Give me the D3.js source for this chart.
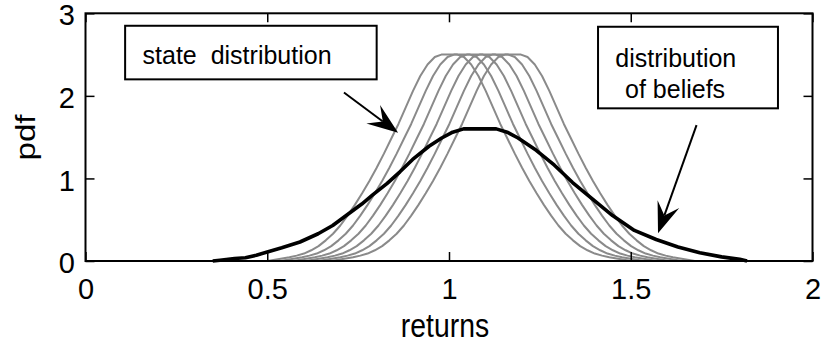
<!DOCTYPE html>
<html>
<head>
<meta charset="utf-8">
<script src="https://cdn.jsdelivr.net/npm/d3@7"></script>
<style>
  body { margin: 0; background: #fff; }
  text { font-family: "Liberation Sans", Arial, sans-serif; fill: #000; }
</style>
</head>
<body>
<div id="chart"></div>
<script>
// tick values
const xTicks = [0, 0.5, 1, 1.5, 2];
const yTicks = [0, 1, 2, 3];

// shape of one state distribution: distance from its centre -> pdf (symmetric)
const stateProfileDist = [0, 0.022, 0.04, 0.06, 0.08, 0.1, 0.12, 0.14, 0.16, 0.18, 0.2, 0.22, 0.24, 0.26, 0.28, 0.3, 0.32, 0.34, 0.36, 0.38, 0.4, 0.42, 0.44, 0.46, 0.48, 0.5];
const stateProfilePdf = [2.5, 2.5, 2.47, 2.38, 2.24, 2.06, 1.86, 1.66, 1.48, 1.3, 1.13, 0.97, 0.82, 0.68, 0.55, 0.43, 0.33, 0.25, 0.18, 0.13, 0.09, 0.065, 0.045, 0.03, 0.015, 0];
// centres of the six state distributions
const stateCentres = [1.001, 1.036, 1.071, 1.106, 1.141, 1.176];

// distribution of beliefs
const beliefReturns = [0.35, 0.37, 0.41, 0.44, 0.47, 0.5, 0.54, 0.59, 0.64, 0.68, 0.72, 0.76, 0.79, 0.83, 0.865, 0.9, 0.945, 0.98, 1.01, 1.04, 1.13, 1.16, 1.19, 1.24, 1.29, 1.34, 1.4, 1.45, 1.51, 1.57, 1.63, 1.69, 1.75, 1.8, 1.82];
const beliefPdf = [0, 0.01, 0.03, 0.04, 0.07, 0.11, 0.16, 0.23, 0.33, 0.43, 0.56, 0.69, 0.8, 0.94, 1.08, 1.23, 1.39, 1.49, 1.56, 1.6, 1.6, 1.56, 1.49, 1.34, 1.16, 0.95, 0.73, 0.55, 0.37, 0.26, 0.17, 0.1, 0.05, 0.02, 0];

// annotation arrows [x0, y0, x1, y1] in data units
const arrows = [
  [0.711, 2.04, 0.86, 1.553],
  [1.681, 1.646, 1.575, 0.335],
];

const margin = { top: 13.3, right: 9.5, bottom: 84, left: 85.5 };
const W = 822, H = 345;
const width = W - margin.left - margin.right;
const height = H - margin.top - margin.bottom;

const x = d3.scaleLinear().domain([0, 2]).range([0, width]);
const y = d3.scaleLinear().domain([0, 3]).range([height, 0]);

const svg = d3.select("#chart").append("svg")
  .attr("width", W).attr("height", H);

const g = svg.append("g")
  .attr("transform", `translate(${margin.left},${margin.top})`);

// build the state curves from the shared profile
const stateCurves = stateCentres.map((c) => {
  const left = stateProfileDist.map((d, i) => [c - d, stateProfilePdf[i]]).reverse();
  const right = stateProfileDist.map((d, i) => [c + d, stateProfilePdf[i]]);
  return left.concat(right);
});
const belief = beliefReturns.map((r, i) => [r, beliefPdf[i]]);

const line = d3.line().x((d) => x(d[0])).y((d) => y(d[1]));

g.append("g")
  .selectAll("path")
  .data(stateCurves)
  .join("path")
  .attr("d", line)
  .attr("fill", "none")
  .attr("stroke", "#8a8a8a")
  .attr("stroke-width", 2)
  .attr("stroke-linejoin", "round");

g.append("path")
  .attr("d", line(belief))
  .attr("fill", "none")
  .attr("stroke", "#000")
  .attr("stroke-width", 3.6)
  .attr("stroke-linejoin", "round");

// axes, MATLAB style: ticks inside, box all round
const tickLen = 9;
g.append("g")
  .attr("transform", `translate(0,${height})`)
  .call(d3.axisBottom(x).tickValues(xTicks).tickSize(-tickLen).tickPadding(17.5).tickFormat(d3.format("")))
  .call((a) => a.select(".domain").remove())
  .call((a) => a.selectAll("text").attr("font-size", 29).attr("dy", "0.71em"));
g.append("g")
  .call(d3.axisTop(x).tickValues(xTicks).tickSize(-tickLen).tickFormat(""))
  .call((a) => a.select(".domain").remove());
g.append("g")
  .call(d3.axisLeft(y).tickValues(yTicks).tickSize(-tickLen).tickPadding(10.5).tickFormat(d3.format("")))
  .call((a) => a.select(".domain").remove())
  .call((a) => a.selectAll("text").attr("font-size", 29).attr("dy", "0.4em"));
g.append("g")
  .attr("transform", `translate(${width},0)`)
  .call(d3.axisRight(y).tickValues(yTicks).tickSize(-tickLen).tickFormat(""))
  .call((a) => a.select(".domain").remove());
g.selectAll(".tick line").attr("stroke", "#000").attr("stroke-width", 1.5);

g.append("rect")
  .attr("width", width).attr("height", height)
  .attr("fill", "none").attr("stroke", "#000").attr("stroke-width", 2);

// axis labels (narrow, tall lettering as in the original)
g.append("text")
  .attr("transform", `translate(${x(1.0) - 4},${height + 75.5}) scale(0.86,1)`)
  .attr("text-anchor", "middle").attr("font-size", 33)
  .text("returns");
svg.append("text")
  .attr("transform", "translate(35,137.5) rotate(-90) scale(1,0.82)")
  .attr("text-anchor", "middle").attr("font-size", 33)
  .text("pdf");

// text boxes
g.append("rect")
  .attr("x", x(0.109)).attr("y", y(2.849))
  .attr("width", x(0.801) - x(0.109)).attr("height", y(2.2) - y(2.849))
  .attr("fill", "#fff").attr("stroke", "#000").attr("stroke-width", 2);
g.append("text")
  .attr("x", x(0.157)).attr("y", y(2.39))
  .attr("font-size", 25).attr("xml:space", "preserve")
  .style("white-space", "pre")
  .text("state  distribution");

g.append("rect")
  .attr("x", x(1.41)).attr("y", y(2.837))
  .attr("width", x(1.905) - x(1.41)).attr("height", y(1.849) - y(2.837))
  .attr("fill", "#fff").attr("stroke", "#000").attr("stroke-width", 2);
g.append("text")
  .attr("x", x(1.624)).attr("y", y(2.352))
  .attr("text-anchor", "middle").attr("font-size", 25)
  .text("distribution");
g.append("text")
  .attr("x", x(1.622)).attr("y", y(1.969))
  .attr("text-anchor", "middle").attr("font-size", 25)
  .text("of beliefs");

// arrows with swept-back heads
arrows.forEach(([x0, y0, x1, y1]) => {
  const sx = x(x0), sy = y(y0), tx = x(x1), ty = y(y1);
  const len = Math.hypot(tx - sx, ty - sy);
  const ux = (tx - sx) / len, uy = (ty - sy) / len;
  const nx = -uy, ny = ux;
  const L = 31, Wd = 11.5, notch = 19;
  g.append("line")
    .attr("x1", sx).attr("y1", sy)
    .attr("x2", tx - ux * notch).attr("y2", ty - uy * notch)
    .attr("stroke", "#000").attr("stroke-width", 2);
  const head = [
    [tx, ty],
    [tx - ux * L + nx * Wd, ty - uy * L + ny * Wd],
    [tx - ux * notch, ty - uy * notch],
    [tx - ux * L - nx * Wd, ty - uy * L - ny * Wd],
  ];
  g.append("path")
    .attr("d", "M" + head.map((p) => p.join(",")).join("L") + "Z")
    .attr("fill", "#000");
});
</script>
</body>
</html>
